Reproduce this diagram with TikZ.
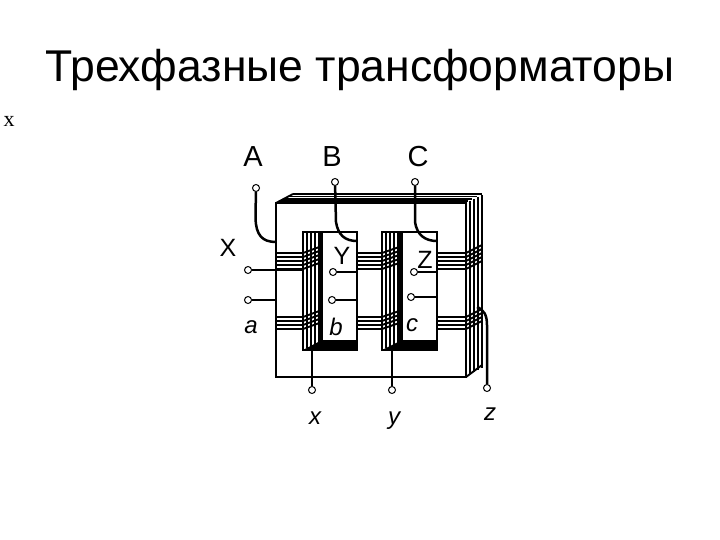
\documentclass[tikz,border=0pt]{standalone}
\usepackage{fontspec}
\setmainfont{Liberation Sans}
\newfontfamily\markfont{Liberation Serif}
\begin{document}
\begin{tikzpicture}[
      x=1pt,y=-1pt,
      line width=1.9pt,
      klemma/.style={
        circle,
        draw=black,
        fill=white,
        line width=1pt,
        inner sep=0pt,
        minimum size=7pt
      },
      wire/.style={line width=2.5pt},
      letter/.style={font=\fontsize{29}{29}\selectfont,inner sep=0pt},
      middle/.style={font=\fontsize{25}{25}\selectfont,inner sep=0pt},
      small/.style={font=\fontsize{24}{24}\selectfont\itshape,inner sep=0pt}
    ]
      \useasboundingbox (0,0) rectangle (720,540);
      \node (title) at (360,70) [inner sep=0pt,font=\fontsize{44.5}{44.5}\selectfont]{Трехфазные трансформаторы};
      \node (mark) at (9,121) [inner sep=0pt,font=\fontsize{22}{22}\selectfont\markfont]{x};

      % yoke and back layers
      \draw (276,377) -- (276,203) -- (466,203) -- (466,377) -- cycle;
      \draw (276,203) -- (293,194);
      \foreach \d in {0,2.4,4.8,7.2}{
        \draw[line width=1.6pt] (293-\d*2,194+\d) -- (482-\d*2,194+\d);
      }
      \foreach \d in {0,4,8,12}{
        \draw (470+\d,201-\d/2) -- (470+\d,374-\d/2);
      }
      \draw (466,377) -- (482,365);

      % windows
      \draw (303,232) rectangle (357,350);
      \draw (382,232) rectangle (437,350);
      \fill (303,350) -- (322,340) -- (357,340) -- (357,350) -- cycle;
      \fill (382,350) -- (402,340) -- (437,340) -- (437,350) -- cycle;
      \foreach \d in {0,4,8,12}{
        \draw (307+\d,232) -- (307+\d,348);
        \draw (386+\d,232) -- (386+\d,348);
      }
      \draw[line width=3.5pt] (321,232) -- (321,345);
      \draw[line width=3.5pt] (401,232) -- (401,345);

      % coils
      \foreach \y in {253,257,261,265,269}{
        \draw (276,\y) -- (303,\y) -- (322,\y-7);
        \draw (357,\y) -- (382,\y) -- (402,\y-7);
        \draw (437,\y) -- (466,\y) -- (482,\y-8);
      }
      \foreach \y in {317,321,325,329}{
        \draw (276,\y) -- (303,\y) -- (322,\y-7);
        \draw (357,\y) -- (382,\y) -- (402,\y-7);
        \draw (437,\y) -- (466,\y) -- (482,\y-8);
      }

      \node (A) at (256,188) [klemma]{};
      \node (B) at (335,182) [klemma]{};
      \node (C) at (415,182) [klemma]{};
      \node (X) at (248,270) [klemma]{};
      \node (Y) at (333,272) [klemma]{};
      \node (Z) at (414,272) [klemma]{};
      \node (a) at (248,300) [klemma]{};
      \node (b) at (332,300) [klemma]{};
      \node (c) at (411,297) [klemma]{};
      \node (x) at (312,390) [klemma]{};
      \node (y) at (392,390) [klemma]{};
      \node (z) at (487,388) [klemma]{};

      \coordinate (Ain) at (276,242);
      \coordinate (Bin) at (357,241);
      \coordinate (Cin) at (437,241);
      \coordinate (Xin) at (303,270);
      \coordinate (Yin) at (357,272);
      \coordinate (Zin) at (437,272);
      \coordinate (ain) at (276,300);
      \coordinate (bin) at (357,300);
      \coordinate (cin) at (437,297);
      \coordinate (xin) at (312,350);
      \coordinate (yin) at (392,350);
      \coordinate (zin) at (477,307);

      \draw[wire] (A) -- (255.5,218) .. controls (256,235) and (262,242) .. (Ain);
      \draw[wire] (B) -- (336,222) .. controls (338,235) and (345,241) .. (Bin);
      \draw[wire] (C) -- (415,222) .. controls (417,235) and (425,241) .. (Cin);
      \draw[wire,line width=1.6pt] (X) -- (Xin);
      \draw[wire] (Y) -- (Yin);
      \draw[wire] (Z) -- (Zin);
      \draw[wire,line width=1.6pt] (a) -- (ain);
      \draw[wire,line width=1.6pt] (b) -- (bin);
      \draw[wire,line width=1.6pt] (c) -- (cin);
      \draw[wire] (x) -- (xin);
      \draw[wire] (y) -- (yin);
      \draw[wire] (z) -- (487,325) .. controls (487,315) and (484,310) .. (zin);

      \node (lA) at (253,157) [letter]{A};
      \node (lB) at (332,157) [letter]{B};
      \node (lC) at (418,157) [letter]{C};
      \node (lX) at (228,248) [middle]{X};
      \node (lY) at (342,256) [middle]{Y};
      \node (lZ) at (425,260) [middle]{Z};
      \node (la) at (251,327) [small]{a};
      \node (lb) at (336,327) [small]{b};
      \node (lc) at (412,325) [small]{c};
      \node (lx) at (315,418) [small]{x};
      \node (ly) at (394,421) [small]{y};
      \node (lz) at (490,414) [small]{z};
    \end{tikzpicture}
\end{document}
